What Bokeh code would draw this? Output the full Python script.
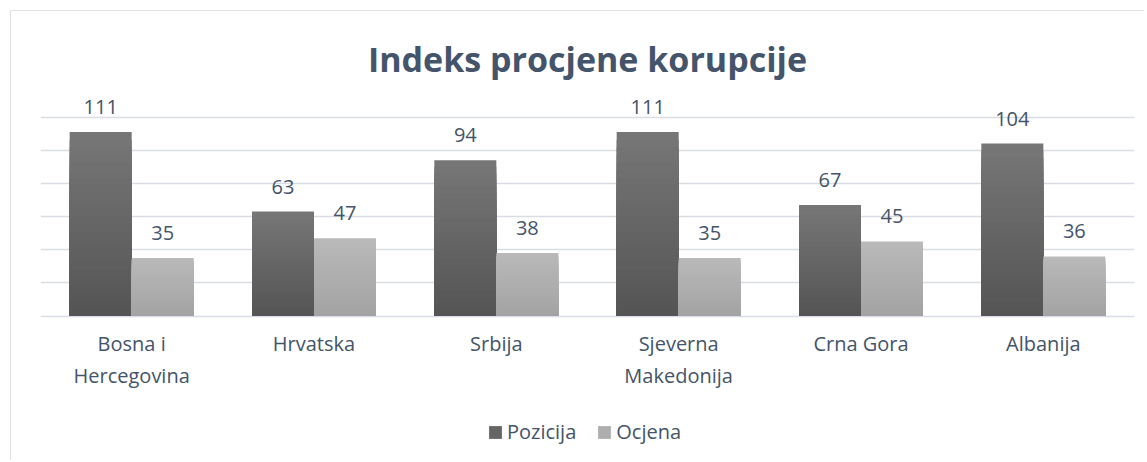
from bokeh.plotting import figure
from bokeh.models import (ColumnDataSource, FactorRange, Range1d, FixedTicker, LabelSet,
                          Legend, LegendItem, Title)
from bokeh.core.properties import value
from bokeh.transform import dodge
from bokeh.embed import file_html
from bokeh.resources import INLINE

categories = ["Bosna i\nHercegovina", "Hrvatska", "Srbija", "Sjeverna\nMakedonija", "Crna Gora", "Albanija"]
pozicija = [111, 63, 94, 111, 67, 104]
ocjena = [35, 47, 38, 35, 45, 36]
series_names = ["Pozicija", "Ocjena"]
grid_ticks = [0, 20, 40, 60, 80, 100, 120]

TEXT = "#44546A"
GRID = "#D9DDE3"
FONT = "Open Sans"

p = figure(x_range=FactorRange(*categories, range_padding=0), y_range=Range1d(-87.66, 136.02),
           width=1133, height=449, output_backend="svg", toolbar_location=None,
           min_border_left=29, min_border_right=11, min_border_top=79, min_border_bottom=0)
p.styles = {"margin-left": "10px", "margin-top": "10px", "box-sizing": "content-box",
            "border-left": "1px solid #DCE1E8", "border-top": "1px solid #DCE1E8",
            "border-right": "0px none", "border-bottom": "0px none", "outline": "none"}
p.outline_line_color = None
p.background_fill_color = "white"
p.border_fill_color = "white"

title = Title(text="Indeks procjene korupcije", align="center", text_font_size="34px",
              text_font_style="bold", text_color=TEXT, text_font=FONT, standoff=18)
p.add_layout(title, "above")

p.yaxis.visible = False
p.xaxis.visible = False
p.ygrid.ticker = FixedTicker(ticks=grid_ticks)
p.ygrid.grid_line_color = GRID
p.ygrid.grid_line_width = 1.3
p.xgrid.grid_line_color = None

N = 24
def grad_source(values, c_top, c_bot):
    xs, tops, colors = [], [], []
    for k in range(N):
        t = k / (N - 1)
        c = int(round(c_top + (c_bot - c_top) * t))
        col = "#%02x%02x%02x" % (c, c, c)
        for cat, v in zip(categories, values):
            xs.append(cat)
            tops.append(v * (N - k) / N)
            colors.append(col)
    return ColumnDataSource(dict(x=xs, top=tops, color=colors))

src_p = grad_source(pozicija, 0x76, 0x55)
src_o = grad_source(ocjena, 0xB9, 0xA3)

r_p = p.vbar(x=dodge("x", -0.17, range=p.x_range), top="top", bottom=0, width=0.34,
             source=src_p, fill_color="color", line_color=None)
r_o = p.vbar(x=dodge("x", 0.17, range=p.x_range), top="top", bottom=0, width=0.34,
             source=src_o, fill_color="color", line_color=None)

# value labels
lab_p = ColumnDataSource(dict(x=categories, y=pozicija, t=[str(v) for v in pozicija]))
lab_o = ColumnDataSource(dict(x=categories, y=ocjena, t=[str(v) for v in ocjena]))
for src, off in ((lab_p, -0.17), (lab_o, 0.17)):
    ls = LabelSet(x=dodge("x", off, range=p.x_range), y="y", text="t", source=src,
                  text_align="center", text_baseline="alphabetic", y_offset=18,
                  text_font=value(FONT), text_font_size="20px", text_color=TEXT)
    p.add_layout(ls)

# category labels under the baseline
cat_src = ColumnDataSource(dict(x=categories, y=[0] * len(categories), t=categories))
p.text(x="x", y="y", text="t", source=cat_src, text_align="center", text_baseline="top",
       y_offset=14, text_font=value(FONT), text_font_size="20px", text_color=TEXT,
       text_line_height=1.2)

mid = (N // 2) * len(categories)
legend = Legend(items=[LegendItem(label=series_names[0], renderers=[r_p], index=mid),
                       LegendItem(label=series_names[1], renderers=[r_o], index=mid)],
                orientation="horizontal", location=(447, 16),
                glyph_width=16, glyph_height=16, label_standoff=4, spacing=20,
                label_text_font=FONT, label_text_font_size="20px", label_text_color=TEXT,
                border_line_color=None, background_fill_alpha=0, margin=0, padding=4)
p.add_layout(legend)

open("out.html", "w").write(file_html(p, INLINE))
